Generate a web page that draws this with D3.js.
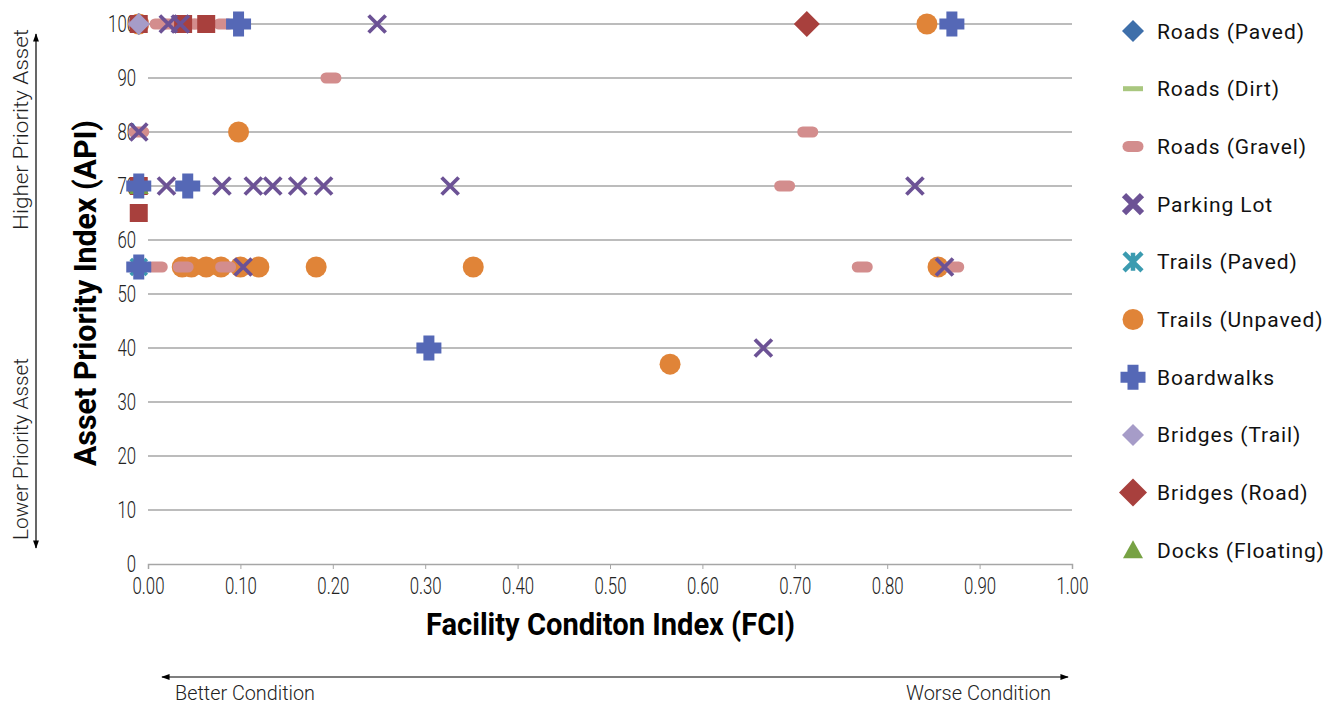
<!DOCTYPE html>
<html>
<head>
<meta charset="utf-8">
<script src="https://cdn.jsdelivr.net/npm/d3@7"></script>
<style>
  body { margin: 0; background: #fff; }
  svg text { font-family: "Roboto", "Liberation Sans", sans-serif; }
</style>
</head>
<body>
<svg id="chart" width="1340" height="706"></svg>
<script>
"use strict";

// Tick values
const xTicks = [0, 0.1, 0.2, 0.3, 0.4, 0.5, 0.6, 0.7, 0.8, 0.9, 1.0];
const yTicks = [0, 10, 20, 30, 40, 50, 60, 70, 80, 90, 100];

// Series points as [FCI, API]
const roadsPaved = [[-0.01, 100]];
const roadsDirt = [[-0.01, 70]];
const roadsGravel = [[-0.01, 100], [0.013, 100], [0.024, 100], [0.045, 100], [0.056, 100], [0.082, 100],
  [0.198, 90], [-0.01, 80], [0.714, 80], [0.689, 70],
  [0.01, 55], [0.038, 55], [0.084, 55], [0.773, 55], [0.872, 55]];
const parkingLot = [[0.022, 100], [0.035, 100], [0.248, 100], [-0.01, 80],
  [0.02, 70], [0.08, 70], [0.114, 70], [0.135, 70], [0.162, 70], [0.19, 70], [0.327, 70], [0.83, 70],
  [0.103, 55], [0.862, 55], [0.666, 40]];
const trailsPaved = [[-0.01, 55]];
const trailsUnpaved = [[-0.01, 100], [0.843, 100], [0.098, 80],
  [0.037, 55], [0.047, 55], [0.063, 55], [0.079, 55], [0.1, 55], [0.12, 55], [0.182, 55], [0.352, 55], [0.855, 55],
  [0.565, 37]];
const boardwalks = [[0.098, 100], [0.87, 100], [-0.01, 70], [0.043, 70], [-0.01, 55], [0.304, 40]];
const bridgesTrail = [[-0.01, 100]];
const bridgesRoad = [[0.713, 100]];
const docksFloating = [[-0.01, 70]];
// red squares that have no legend entry
const unlisted = [[-0.01, 100], [0.038, 100], [0.063, 100], [-0.01, 70], [-0.01, 65]];

// Marker shapes
function shapePath(type, s) {
  var h = s / 2;
  switch (type) {
    case "diamond": return `M0,${-h}L${h},0L0,${h}L${-h},0Z`;
    case "square": return `M${-h},${-h}H${h}V${h}H${-h}Z`;
    case "triangle": return `M0,${-h}L${h},${h * 0.8}L${-h},${h * 0.8}Z`;
    case "circle": return d3.symbol(d3.symbolCircle, Math.PI * h * h)();
    case "plus": {
      var t = s * 0.22;
      return `M${-t},${-h}H${t}V${-t}H${h}V${t}H${t}V${h}H${-t}V${t}H${-h}V${-t}H${-t}Z`;
    }
    case "pill": return `M${-h + 5},-5.5H${h - 5}A5.5,5.5 0 0 1 ${h - 5},5.5H${-h + 5}A5.5,5.5 0 0 1 ${-h + 5},-5.5Z`;
    case "dash": return `M${-h},-2.5H${h}V2.5H${-h}Z`;
    case "x": return `M${-h},${-h}L${h},${h}M${h},${-h}L${-h},${h}`;
    case "star": return `M${-h},${-h}L${h},${h}M${h},${-h}L${-h},${h}M0,${-h}V${h}`;
  }
}

// draw order (later on top)
const series = [
  { name: "Trails (Unpaved)", data: trailsUnpaved, shape: "circle", size: 21, color: "#e08438" },
  { name: "Roads (Paved)", data: roadsPaved, shape: "diamond", size: 22, color: "#3e6faa" },
  { name: "Roads (Dirt)", data: roadsDirt, shape: "dash", size: 20, color: "#a9c77f" },
  { name: "Roads (Gravel)", data: roadsGravel, shape: "pill", size: 20, color: "#d38d8d" },
  { name: null, data: unlisted, shape: "square", size: 18, color: "#a8403d" },
  { name: "Parking Lot", data: parkingLot, shape: "x", size: 17, color: "#6c5295", stroke: true },
  { name: "Trails (Paved)", data: trailsPaved, shape: "star", size: 16, color: "#3b9bb0", stroke: true },
  { name: "Docks (Floating)", data: docksFloating, shape: "triangle", size: 20, color: "#77a244" },
  { name: "Boardwalks", data: boardwalks, shape: "plus", size: 25, color: "#5568b6" },
  { name: "Bridges (Trail)", data: bridgesTrail, shape: "diamond", size: 22, color: "#a69cc8" },
  { name: "Bridges (Road)", data: bridgesRoad, shape: "diamond", size: 26, color: "#a8403d" }
];
const legendOrder = ["Roads (Paved)", "Roads (Dirt)", "Roads (Gravel)", "Parking Lot", "Trails (Paved)",
  "Trails (Unpaved)", "Boardwalks", "Bridges (Trail)", "Bridges (Road)", "Docks (Floating)"];

const svg = d3.select("#chart");
const x = d3.scaleLinear().domain([0, 1]).range([148, 1072]);
const y = d3.scaleLinear().domain([0, 100]).range([564, 24]);
const squeeze = 0.7;

// Gridlines
svg.append("g").selectAll("line")
  .data(yTicks.filter(d => d > 0))
  .join("line")
  .attr("x1", x(0)).attr("x2", x(1))
  .attr("y1", d => y(d)).attr("y2", d => y(d))
  .attr("stroke", "#a6a6a6").attr("stroke-width", 1.5);

// X axis
const xAxis = svg.append("g")
  .attr("transform", `translate(0,${y(0)})`)
  .call(d3.axisBottom(x).tickValues(xTicks).tickFormat(d3.format(".2f")).tickSizeOuter(0).tickSize(5).tickPadding(8));
xAxis.attr("font-family", null);
xAxis.select(".domain").attr("stroke", "#a6a6a6").attr("stroke-width", 1.5);
xAxis.selectAll(".tick line").attr("stroke", "#a6a6a6");
xAxis.selectAll("text").attr("font-size", 24).attr("font-weight", 300).attr("fill", "#222")
  .attr("transform", `scale(${squeeze},1)`);

// Y axis labels
const yAxis = svg.append("g")
  .attr("transform", `translate(${x(0)},0)`)
  .call(d3.axisLeft(y).tickValues(yTicks).tickSize(0));
yAxis.attr("font-family", null);
yAxis.select(".domain").remove();
yAxis.selectAll("text").attr("font-size", 24).attr("font-weight", 300).attr("fill", "#222")
  .attr("dy", "0.3em")
  .attr("x", -12 / squeeze).attr("transform", `scale(${squeeze},1)`);

// Markers
series.forEach(s => {
  svg.append("g").selectAll("path")
    .data(s.data)
    .join("path")
    .attr("transform", d => `translate(${x(d[0])},${y(d[1])})`)
    .attr("d", shapePath(s.shape, s.size))
    .attr("fill", s.stroke ? "none" : s.color)
    .attr("stroke", s.stroke ? s.color : "none")
    .attr("stroke-width", s.stroke ? 3.8 : 0);
});

// Axis titles
svg.append("text")
  .attr("x", 426).attr("y", 635)
  .attr("font-size", 31).attr("font-weight", "bold")
  .attr("textLength", 369).attr("lengthAdjust", "spacingAndGlyphs")
  .text("Facility Conditon Index (FCI)");
svg.append("text")
  .attr("transform", "translate(96,466) rotate(-90)")
  .attr("font-size", 31).attr("font-weight", "bold")
  .attr("textLength", 346).attr("lengthAdjust", "spacingAndGlyphs")
  .text("Asset Priority Index (API)");

// Direction arrows
const defs = svg.append("defs");
defs.append("marker").attr("id", "arr")
  .attr("viewBox", "0 0 10 10").attr("refX", 9).attr("refY", 5)
  .attr("markerWidth", 7).attr("markerHeight", 7).attr("orient", "auto-start-reverse")
  .append("path").attr("d", "M0,1.5L10,5L0,8.5Z").attr("fill", "#000");

svg.append("line").attr("x1", 36).attr("x2", 36).attr("y1", 548).attr("y2", 34)
  .attr("stroke", "#000").attr("stroke-width", 1.2)
  .attr("marker-start", "url(#arr)").attr("marker-end", "url(#arr)");
svg.append("line").attr("x1", 162).attr("x2", 1068).attr("y1", 677).attr("y2", 677)
  .attr("stroke", "#000").attr("stroke-width", 1.2)
  .attr("marker-start", "url(#arr)").attr("marker-end", "url(#arr)");

const sideLabels = [
  { text: "Higher Priority Asset", tf: "translate(28,230) rotate(-90)", len: 201 },
  { text: "Lower Priority Asset", tf: "translate(28,540) rotate(-90)", len: 182 },
  { text: "Better Condition", tf: "translate(175,700)", len: 140 },
  { text: "Worse Condition", tf: "translate(906,700)", len: 145 }
];
sideLabels.forEach(d => {
  svg.append("text")
    .attr("transform", d.tf)
    .attr("font-size", 21).attr("font-weight", 300).attr("fill", "#222")
    .attr("textLength", d.len).attr("lengthAdjust", "spacingAndGlyphs")
    .text(d.text);
});

// Legend
const legend = svg.append("g");
legendOrder.forEach((name, i) => {
  const s = series.find(d => d.name === name);
  const ly = 31 + i * 57.7;
  legend.append("path")
    .attr("transform", `translate(1133,${ly})`)
    .attr("d", shapePath(s.shape, s.shape === "x" || s.shape === "star" ? 18 : s.size + (name === "Bridges (Road)" ? 2 : 0)))
    .attr("fill", s.stroke ? "none" : s.color)
    .attr("stroke", s.stroke ? s.color : "none")
    .attr("stroke-width", s.shape === "x" ? 6 : (s.stroke ? 4.5 : 0));
  legend.append("text")
    .attr("x", 1157).attr("y", ly + 7.5)
    .attr("font-size", 21).attr("letter-spacing", 0.9).attr("fill", "#111")
    .text(name);
});
</script>
</body>
</html>
